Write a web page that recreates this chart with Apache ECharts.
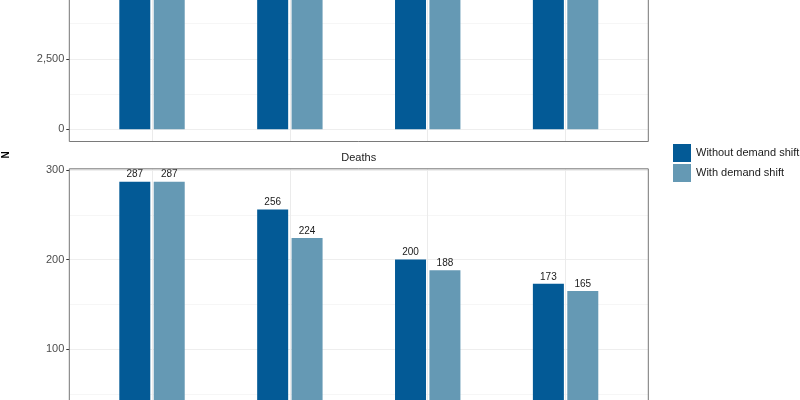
<!DOCTYPE html>
<html><head><meta charset="utf-8">
<script src="https://cdn.jsdelivr.net/npm/echarts@6/dist/echarts.min.js"></script>
<style>
html,body{margin:0;padding:0;background:#fff;width:800px;height:400px;overflow:hidden;position:relative}
#c{position:absolute;left:0;top:-128px;width:800px;height:580px}
</style>
</head><body><div id="c"></div>
<script>
// Scenario categories (their labels are cut off in the reference)
const scenarios = ['Scenario 1', 'Scenario 2', 'Scenario 3', 'Scenario 4'];
const seriesNames = ['Without demand shift', 'With demand shift'];
// Top panel: bars run above the visible area; values are estimates
const topWithout = [8700, 7760, 6060, 5240];
const topWith = [8700, 6790, 5700, 5000];
// Bottom panel: Deaths
const deathsWithout = [287, 256, 200, 173];
const deathsWith = [287, 224, 188, 165];
// Tick labels
const topTicks = [0, 2500, 5000, 7500];
const deathTicks = [0, 100, 200, 300];

const FONT = 'Liberation Sans, Arial, Helvetica, sans-serif';
const colors = ['#035a96', '#6599b4'];
const OFF = 128;      // the canvas extends 128px above the visible window
const H = 580;        // canvas height

function xAxis(gridIndex) {
  return {
    type: 'value', gridIndex, min: 0.4, max: scenarios.length + 0.6,
    minInterval: 1, maxInterval: 1,
    axisLine: {show: false}, axisTick: {show: false}, axisLabel: {show: false},
    splitLine: {show: true, lineStyle: {color: '#ebebeb', width: 1}}
  };
}
function yAxes(gridIndex, data, ticks) {
  const dmax = Math.max(...data);
  const lo = -0.05 * dmax, hi = 1.05 * dmax;
  const step = ticks[1] - ticks[0];
  return [{
    type: 'value', gridIndex, min: lo, max: hi, minInterval: step, maxInterval: step,
    axisLine: {show: false},
    axisTick: {show: true, length: 3, customValues: ticks, lineStyle: {color: '#333'}},
    axisLabel: {margin: 5, color: '#4d4d4d', fontSize: 11, fontFamily: FONT, customValues: ticks,
      formatter: v => ticks.indexOf(v) >= 0 ? v.toLocaleString('en-US') : ''},
    splitLine: {show: true, lineStyle: {color: '#ebebeb', width: 1}}
  }, {
    type: 'value', gridIndex, min: lo, max: hi, minInterval: step / 2, maxInterval: step / 2,
    position: 'left',
    axisLine: {show: false}, axisTick: {show: false}, axisLabel: {show: false},
    splitLine: {show: true, lineStyle: {color: '#f0f0f0', width: 0.6}}
  }];
}
function bars(name, vals, idx, xi, yi) {
  return {
    type: 'bar', name, xAxisIndex: xi, yAxisIndex: yi,
    data: vals.map((v, i) => [i + 1, v]),
    barWidth: 31, barGap: '11%',
    itemStyle: {color: colors[idx]},
    label: {show: true, position: 'top', distance: 2, color: '#1a1a1a', fontSize: 10, fontFamily: FONT},
    clip: true
  };
}

const chart = echarts.init(document.getElementById('c'), null, {renderer: 'canvas'});
chart.setOption({
  animation: false,
  backgroundColor: '#fff',
  textStyle: {fontFamily: FONT},
  grid: [
    {z: 10, left: 69.3, right: 151.7, top: 0, bottom: H - (141.5 + OFF), show: true, borderColor: '#7a7a7a', borderWidth: 1, backgroundColor: 'transparent'},
    {z: 10, left: 69.3, right: 151.7, top: 168.8 + OFF, bottom: H - (451.7 + OFF), show: true, borderColor: '#7a7a7a', borderWidth: 1, backgroundColor: 'transparent'}
  ],
  xAxis: [xAxis(0), xAxis(1)],
  yAxis: [...yAxes(0, topWithout.concat(topWith), topTicks), ...yAxes(1, deathsWithout.concat(deathsWith), deathTicks)],
  legend: {
    data: seriesNames, orient: 'vertical', left: 668, top: 139 + OFF,
    itemWidth: 18, itemHeight: 18, itemGap: 2, icon: 'rect',
    textStyle: {fontSize: 11, color: '#1a1a1a', fontFamily: FONT}
  },
  graphic: [
    {type: 'text', x: 358.7, y: 158 + OFF, style: {text: 'Deaths', font: '11px ' + FONT, fill: '#1a1a1a', textAlign: 'center', textVerticalAlign: 'middle'}},
    {type: 'text', x: 6, y: 155 + OFF, rotation: Math.PI / 2, style: {text: 'N', font: 'bold 10px ' + FONT, fill: '#000', textAlign: 'center', textVerticalAlign: 'middle'}}
  ],
  series: [
    bars(seriesNames[0], topWithout, 0, 0, 0),
    bars(seriesNames[1], topWith, 1, 0, 0),
    bars(seriesNames[0], deathsWithout, 0, 1, 2),
    bars(seriesNames[1], deathsWith, 1, 1, 2)
  ]
});
</script></body></html>
